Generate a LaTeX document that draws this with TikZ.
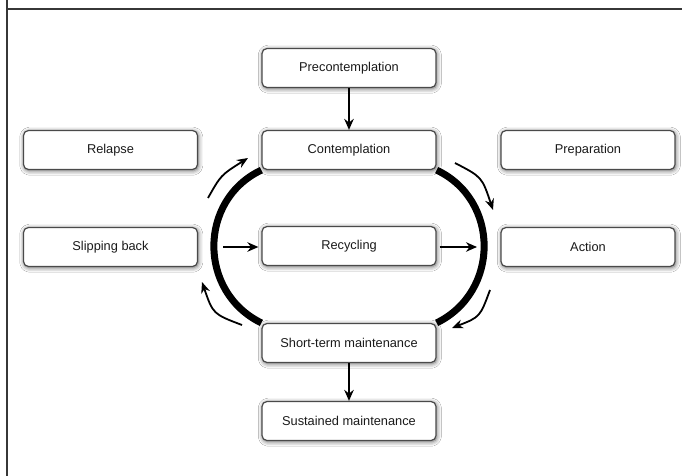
\documentclass[tikz,border=0pt]{standalone}
\usepackage{fontspec}
\setmainfont{Liberation Sans}
\usetikzlibrary{arrows.meta,shadows.blur}
\definecolor{boxline}{HTML}{4A4A4A}
\definecolor{txt}{HTML}{1A1A1A}
\begin{document}
\begin{tikzpicture}[x=1pt,y=-1pt,
  stagebox/.style={draw=boxline, line width=1.2pt, rounded corners=5pt, fill=white,
    minimum width=174pt, minimum height=39pt, inner sep=0pt, text=txt,
    font=\fontsize{12.8pt}{15pt}\selectfont,
    blur shadow={shadow xshift=0.8pt, shadow yshift=-1.2pt, shadow blur radius=4.5pt, shadow opacity=65}},
  flow/.style={line width=2.2pt, -{Stealth[length=11pt,width=9.5pt]}},
  cyc/.style={line width=1.8pt, -{Stealth[length=11pt,width=9pt]}},
  thick arc/.style={line width=7pt, line cap=butt}]
\useasboundingbox (0,0) rectangle (682,476);
\fill[white] (0,0) rectangle (682,476);
% frame
\draw[line width=2pt, draw={rgb,255:red,55;green,55;blue,55}] (6.5,0) -- (6.5,476);
\draw[line width=2pt, draw={rgb,255:red,55;green,55;blue,55}] (6.5,9.5) -- (682,9.5);
% boxes
\node[stagebox] (pre) at (349,68) {Precontemplation};
\node[stagebox] (cont) at (349,150) {Contemplation};
\node[stagebox] (rel) at (110.5,150) {Relapse};
\node[stagebox] (prep) at (588,150) {Preparation};
\node[stagebox] (slip) at (110.5,247) {Slipping back};
\node[stagebox] (rec) at (349,246) {Recycling};
\node[stagebox] (act) at (588,247) {Action};
\node[stagebox] (stm) at (349,343) {Short-term maintenance};
\node[stagebox] (sus) at (349,421) {Sustained maintenance};
% thick arcs
\draw[thick arc] (cont.south west) .. controls (198,200) and (198,292) .. (stm.north west);
\draw[thick arc] (cont.south east) .. controls (500,200) and (500,292) .. (stm.north east);
% straight arrows
\draw[flow] (pre) -- (cont);
\draw[flow] (stm) -- (sus);
\coordinate (lstart) at (223,247);
\coordinate (rend) at (477,247);
\draw[flow] (lstart) -- ([xshift=-3pt]rec.west |- lstart);
\draw[flow] ([xshift=3pt]rec.east |- rend) -- (rend);
% cycle arrows
\coordinate (a1s) at (208,198); \coordinate (a1e) at (248,158);
\coordinate (a2s) at (455,163); \coordinate (a2e) at (493,210);
\coordinate (a3s) at (490,290); \coordinate (a3e) at (452,328);
\coordinate (a4s) at (242,325); \coordinate (a4e) at (202,282);
\draw[cyc] (a1s) .. controls (221,175) .. (a1e);
\draw[cyc] (a2s) .. controls (482,177) .. (a2e);
\draw[cyc] (a3s) .. controls (480,317) .. (a3e);
\draw[cyc] (a4s) .. controls (213,314) .. (a4e);
\end{tikzpicture}
\end{document}
